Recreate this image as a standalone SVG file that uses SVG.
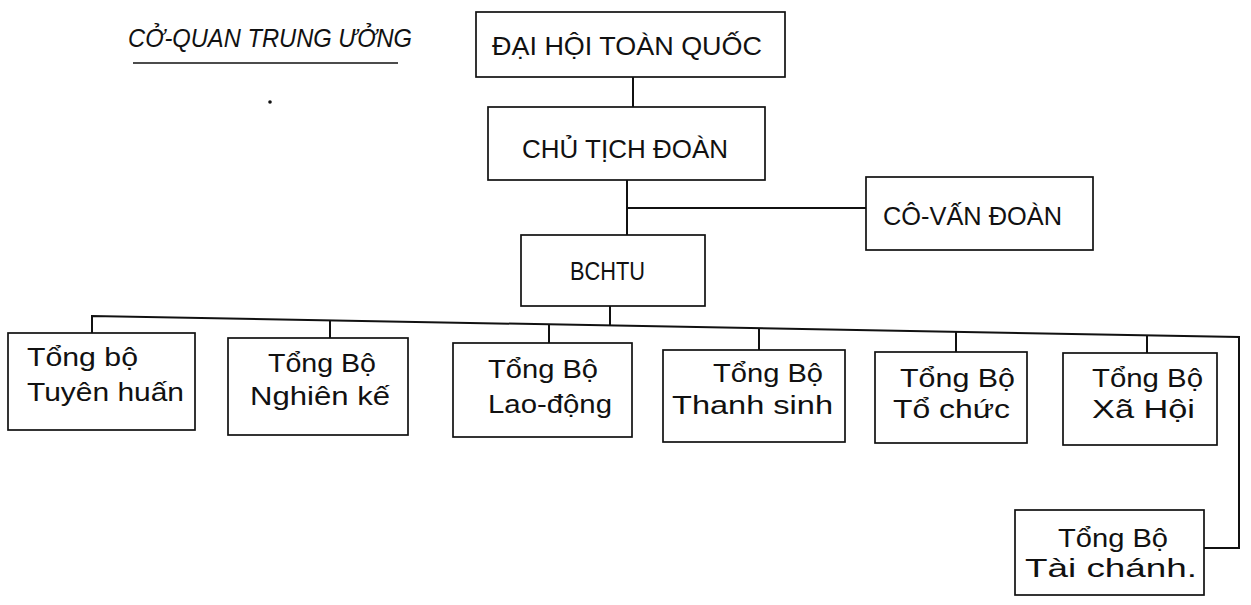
<svg xmlns="http://www.w3.org/2000/svg" width="1251" height="605" viewBox="0 0 1251 605">
<style>
.box{fill:#fff;stroke:#111;stroke-width:1.7}
.t{font-family:"Liberation Sans","DejaVu Sans",sans-serif;font-size:25px;fill:#111}
.ttl{font-family:"Liberation Sans","DejaVu Sans",sans-serif;font-size:26px;font-style:italic;fill:#111}
.c{fill:none;stroke:#111;stroke-width:2}
</style>
<rect width="1251" height="605" fill="#fff"/>
<g id="title">
<text class="ttl" x="128" y="47" textLength="284" lengthAdjust="spacingAndGlyphs">CỞ-QUAN TRUNG ƯỞNG</text>
<line x1="133" y1="63" x2="398" y2="63" stroke="#111" stroke-width="1.7"/>
</g>
<circle cx="270" cy="102" r="1.8" fill="#111"/>
<g id="connectors">
<line class="c" x1="633" y1="77" x2="633" y2="107"/>
<line class="c" x1="627" y1="180" x2="627" y2="235"/>
<line class="c" x1="627" y1="208" x2="866" y2="208"/>
<line class="c" x1="610" y1="306" x2="610" y2="326"/>
<polyline class="c" points="92,333 92,316 1239,337 1239,548 1204,548"/>
<line class="c" x1="330" y1="320" x2="330" y2="338"/>
<line class="c" x1="549" y1="324" x2="549" y2="343"/>
<line class="c" x1="759" y1="328" x2="759" y2="350"/>
<line class="c" x1="956" y1="332" x2="956" y2="352"/>
<line class="c" x1="1147" y1="335" x2="1147" y2="353"/>
</g>
<g id="dai-hoi">
<rect class="box" x="476" y="12" width="309" height="65"/>
<text class="t" x="492" y="55" textLength="270" lengthAdjust="spacingAndGlyphs">ĐẠI HỘI TOÀN QUỐC</text>
</g>
<g id="chu-tich">
<rect class="box" x="488" y="107" width="277" height="73"/>
<text class="t" x="522" y="158" textLength="206" lengthAdjust="spacingAndGlyphs">CHỦ TỊCH ĐOÀN</text>
</g>
<g id="co-van">
<rect class="box" x="866" y="177" width="227" height="73"/>
<text class="t" x="883" y="225" textLength="179" lengthAdjust="spacingAndGlyphs">CÔ-VẤN ĐOÀN</text>
</g>
<g id="bchtu">
<rect class="box" x="521" y="235" width="184" height="71"/>
<text class="t" x="570" y="280" font-size="23" textLength="75" lengthAdjust="spacingAndGlyphs">BCHTU</text>
</g>
<g id="tuyen-huan">
<rect class="box" x="8" y="333" width="187" height="97"/>
<text class="t" x="27" y="366" textLength="111" lengthAdjust="spacingAndGlyphs">Tổng bộ</text>
<text class="t" x="27" y="401" textLength="157" lengthAdjust="spacingAndGlyphs">Tuyên huấn</text>
</g>
<g id="nghien-ke">
<rect class="box" x="228" y="338" width="180" height="97"/>
<text class="t" x="268" y="372" textLength="108" lengthAdjust="spacingAndGlyphs">Tổng Bộ</text>
<text class="t" x="250" y="405" textLength="140" lengthAdjust="spacingAndGlyphs">Nghiên kế</text>
</g>
<g id="lao-dong">
<rect class="box" x="453" y="343" width="179" height="94"/>
<text class="t" x="488" y="378" textLength="110" lengthAdjust="spacingAndGlyphs">Tổng Bộ</text>
<text class="t" x="488" y="413" textLength="124" lengthAdjust="spacingAndGlyphs">Lao-động</text>
</g>
<g id="thanh-sinh">
<rect class="box" x="663" y="350" width="182" height="92"/>
<text class="t" x="713" y="382" textLength="110" lengthAdjust="spacingAndGlyphs">Tổng Bộ</text>
<text class="t" x="672" y="414" textLength="161" lengthAdjust="spacingAndGlyphs">Thanh sinh</text>
</g>
<g id="to-chuc">
<rect class="box" x="875" y="352" width="152" height="91"/>
<text class="t" x="900" y="387" textLength="115" lengthAdjust="spacingAndGlyphs">Tổng Bộ</text>
<text class="t" x="893" y="418" textLength="117" lengthAdjust="spacingAndGlyphs">Tổ chức</text>
</g>
<g id="xa-hoi">
<rect class="box" x="1063" y="353" width="154" height="92"/>
<text class="t" x="1092" y="387" textLength="111" lengthAdjust="spacingAndGlyphs">Tổng Bộ</text>
<text class="t" x="1092" y="418" textLength="103" lengthAdjust="spacingAndGlyphs">Xã  Hội</text>
</g>
<g id="tai-chanh">
<rect class="box" x="1015" y="510" width="189" height="85"/>
<text class="t" x="1058" y="547" textLength="110" lengthAdjust="spacingAndGlyphs">Tổng Bộ</text>
<text class="t" x="1025" y="577" textLength="172" lengthAdjust="spacingAndGlyphs">Tài  chánh.</text>
</g>
</svg>
